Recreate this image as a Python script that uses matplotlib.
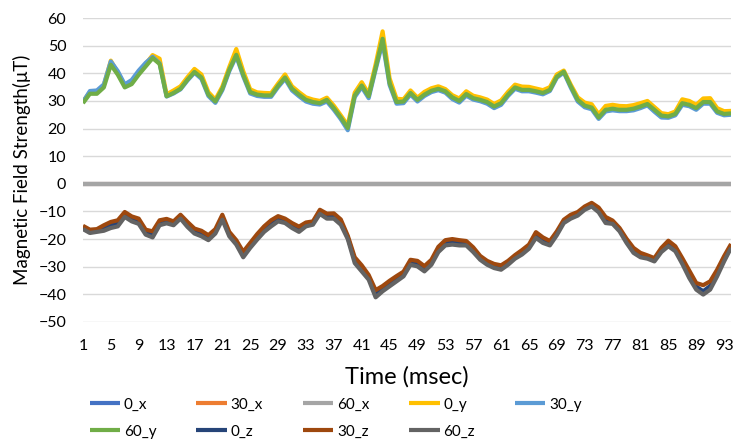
import matplotlib
matplotlib.use("Agg")
import matplotlib.pyplot as plt

plt.rcParams['font.family'] = ['Lato', 'DejaVu Sans']

time_ms = list(range(1, 95))

field_0_x = [0.0] * 94
field_30_x = [0.0] * 94
field_60_x = [0.0] * 94

field_0_y = [29.8, 33.2, 33.4, 35.8, 44.6, 40.2, 35.6, 36.8, 40.2, 43.4,
             46.6, 45.3, 32.4, 33.8, 35.3, 38.6, 41.6, 39.6, 33.2, 30.5,
             35.2, 42.3, 48.8, 40.8, 34.2, 33.1, 32.9, 32.8, 36.3, 39.6,
             35.3, 33.2, 31.3, 30.5, 30.0, 31.2, 28.3, 24.8, 21.2, 33.0,
             36.8, 32.6, 43.3, 55.2, 38.2, 30.8, 30.6, 33.8, 31.2, 33.3,
             34.6, 35.3, 34.3, 32.1, 30.9, 33.5, 31.9, 31.3, 30.5, 28.9,
             30.2, 33.3, 35.9, 35.2, 35.1, 34.5, 33.9, 35.0, 39.6, 41.0,
             35.9, 31.3, 29.4, 28.8, 25.2, 28.2, 28.6, 28.2, 28.1, 28.5,
             29.2, 30.0, 27.8, 25.6, 25.2, 26.2, 30.6, 30.0, 28.6, 30.9,
             31.0, 27.4, 26.3, 26.4]

field_30_y = [29.6, 33.6, 33.8, 36.0, 44.3, 40.8, 36.0, 37.6, 41.0, 43.8,
              46.0, 43.6, 31.6, 32.7, 34.2, 37.4, 40.2, 38.0, 31.8, 29.3,
              33.9, 40.8, 46.2, 38.9, 32.7, 31.8, 31.5, 31.5, 35.0, 38.0,
              33.8, 31.7, 29.8, 29.0, 28.7, 29.8, 26.8, 23.4, 19.4, 31.4,
              35.0, 31.0, 41.4, 51.2, 35.8, 29.0, 29.2, 32.3, 29.8, 31.8,
              33.2, 33.9, 33.0, 30.7, 29.4, 31.9, 30.5, 29.9, 29.0, 27.4,
              28.6, 31.8, 34.4, 33.5, 33.5, 33.0, 32.4, 33.6, 38.4, 40.3,
              34.8, 29.8, 27.7, 27.0, 23.5, 26.2, 26.6, 26.3, 26.3, 26.6,
              27.4, 28.4, 26.1, 24.0, 23.9, 24.8, 28.6, 28.1, 26.8, 29.0,
              29.0, 25.7, 24.8, 25.0]

field_60_y = [29.2, 32.6, 32.6, 34.9, 43.1, 39.5, 34.9, 36.1, 39.5, 42.5,
              45.5, 43.4, 31.7, 32.9, 34.4, 37.7, 40.5, 38.5, 32.3, 29.8,
              34.4, 41.3, 46.7, 39.5, 33.2, 32.3, 32.0, 32.0, 35.5, 38.5,
              34.4, 32.3, 30.4, 29.6, 29.2, 30.4, 27.4, 24.0, 20.2, 32.0,
              35.6, 31.7, 42.0, 52.5, 36.5, 29.6, 29.8, 32.9, 30.4, 32.3,
              33.7, 34.4, 33.5, 31.3, 30.0, 32.5, 31.0, 30.4, 29.6, 28.0,
              29.2, 32.3, 34.9, 34.0, 34.0, 33.5, 32.9, 34.0, 38.8, 40.6,
              35.3, 30.4, 28.3, 27.6, 24.0, 26.8, 27.2, 26.8, 26.8, 27.2,
              28.0, 28.9, 26.8, 24.7, 24.4, 25.3, 29.2, 28.6, 27.4, 29.6,
              29.6, 26.2, 25.3, 25.5]

field_0_z = [-16.0, -17.3, -17.0, -16.2, -15.0, -14.4, -11.2, -12.8, -13.6, -17.6,
             -18.4, -14.2, -13.6, -14.4, -12.0, -14.8, -17.2, -18.1, -19.6, -17.2,
             -12.2, -18.3, -21.3, -25.7, -22.4, -19.3, -16.5, -14.3, -12.7, -13.4,
             -15.2, -16.5, -14.8, -14.2, -10.2, -11.8, -11.7, -13.9, -19.4, -27.6,
             -30.6, -33.9, -40.0, -38.0, -36.1, -34.3, -32.6, -28.4, -28.9, -30.8,
             -28.4, -23.8, -21.4, -21.0, -21.4, -21.5, -23.9, -26.8, -28.6, -29.8,
             -30.3, -28.6, -26.5, -24.8, -22.8, -18.6, -20.4, -21.5, -17.9, -13.6,
             -11.9, -10.8, -8.8, -7.6, -9.5, -13.1, -13.9, -16.6, -20.6, -24.1,
             -25.8, -26.5, -27.5, -23.9, -21.5, -23.5, -27.9, -32.8, -37.2, -38.9,
             -37.0, -32.3, -27.2, -22.5]

field_30_z = [-15.2, -16.6, -16.4, -15.0, -13.8, -13.2, -10.2, -11.8, -12.6, -16.6,
              -17.2, -13.2, -12.7, -13.6, -11.2, -13.8, -16.2, -17.0, -18.6, -16.4,
              -11.2, -17.4, -20.4, -24.6, -21.4, -18.2, -15.4, -13.2, -11.7, -12.6,
              -14.2, -15.5, -14.0, -13.6, -9.4, -10.8, -10.7, -12.9, -18.8, -26.6,
              -29.5, -33.0, -38.5, -37.0, -35.1, -33.4, -31.8, -27.5, -27.9, -29.8,
              -27.5, -22.8, -20.4, -20.0, -20.4, -20.7, -23.0, -26.1, -27.9, -29.0,
              -29.5, -27.9, -25.8, -24.0, -22.0, -17.5, -19.4, -20.7, -17.2, -13.0,
              -11.2, -10.2, -8.2, -6.9, -8.6, -12.0, -13.3, -16.0, -19.9, -23.2,
              -25.0, -25.9, -26.9, -23.2, -20.6, -22.6, -26.9, -31.4, -35.9, -36.7,
              -35.3, -31.1, -26.2, -21.8]

field_60_z = [-16.4, -17.8, -17.4, -17.0, -16.0, -15.4, -12.0, -13.6, -14.5, -18.4,
              -19.4, -15.0, -14.3, -15.0, -12.6, -15.6, -18.0, -19.0, -20.4, -18.0,
              -13.0, -19.0, -22.0, -26.6, -23.2, -20.2, -17.4, -15.4, -13.6, -14.2,
              -16.0, -17.4, -15.4, -14.8, -10.9, -12.6, -12.6, -14.8, -20.0, -28.7,
              -31.7, -34.7, -41.1, -38.9, -37.1, -35.3, -33.5, -29.3, -29.9, -31.7,
              -29.3, -24.7, -22.3, -22.0, -22.3, -22.3, -24.7, -27.5, -29.3, -30.5,
              -31.1, -29.3, -27.1, -25.6, -23.5, -19.6, -21.4, -22.3, -18.6, -14.2,
              -12.6, -11.5, -9.4, -8.2, -10.3, -14.2, -14.5, -17.2, -21.4, -25.0,
              -26.6, -27.1, -28.1, -24.7, -22.6, -24.4, -29.0, -34.1, -38.3, -40.1,
              -38.3, -33.5, -28.1, -23.2]

series_names = ["0_x", "30_x", "60_x", "0_y", "30_y", "60_y", "0_z", "30_z", "60_z"]
series_values = [field_0_x, field_30_x, field_60_x, field_0_y, field_30_y,
                 field_60_y, field_0_z, field_30_z, field_60_z]
series_colors = ["#4472C4", "#ED7D31", "#A5A5A5", "#FFC000", "#5B9BD5",
                 "#70AD47", "#264478", "#9E480E", "#636363"]

fig = plt.figure(figsize=(7.34, 4.41), dpi=100)
ax = fig.add_axes([0.113, 0.270, 0.883, 0.689])

lines = {}
for name, vals, col in zip(series_names, series_values, series_colors):
    (ln,) = ax.plot(time_ms, vals, color=col, lw=3.0, solid_joinstyle="round",
                    solid_capstyle="butt", label=name)
    lines[name] = ln

ax.set_xlim(1, 94)
ax.set_ylim(-50, 60)
ax.set_yticks(range(-50, 61, 10))
ax.set_xticks(range(1, 94, 4))
ax.grid(axis="y", color="#D9D9D9", lw=1.0)
ax.set_axisbelow(True)
for sp in ax.spines.values():
    sp.set_visible(False)
ax.tick_params(length=0, labelsize=11.5, colors="#000000")
ax.tick_params(axis="y", pad=12)
ax.tick_params(axis="x", pad=12)

ax.set_xlabel("Time (msec)", fontsize=17, labelpad=10)
ax.set_ylabel("Magnetic Field Strength(μT)", fontsize=13.5, labelpad=5)

legend_order = ["0_x", "60_y", "30_x", "0_z", "60_x", "30_z", "0_y", "60_z", "30_y"]
fig.legend([lines[n] for n in legend_order], legend_order, ncol=5,
           loc="upper left", bbox_to_anchor=(0.122, 0.098), frameon=False,
           fontsize=11, handlelength=2.0, handletextpad=0.25,
           columnspacing=2.6, labelspacing=0.85, borderaxespad=0,
           borderpad=0)

fig.savefig("out.png", dpi=100)
